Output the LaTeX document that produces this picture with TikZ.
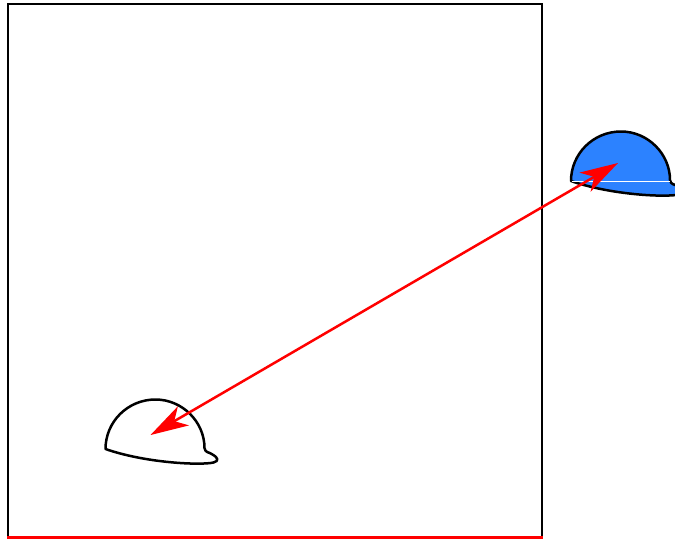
\documentclass[tikz,border=0pt]{standalone}
\usetikzlibrary{arrows.meta}
\definecolor{hatblue}{HTML}{2C82FF}
\tikzset{
  px/.style={x=1pt,y=-1pt},
  hatline/.style={draw=black,line width=2.5pt,line join=round},
  frameline/.style={draw=black,line width=2.5pt},
  redline/.style={draw=red,line width=3pt},
  redarrow/.style={draw=red,line width=2.5pt,
    {Stealth[length=38pt,width=22pt,inset=10.5pt,fill=red]}-{Stealth[length=38pt,width=22pt,inset=10.5pt,fill=red]}},
  hatpath/.pic={
    \path[pic actions,px] (0,0) .. controls (0,-27) and (22,-49.5) .. (50,-49.5)
      .. controls (77,-49.5) and (99,-27) .. (99,-1)
      .. controls (99.5,4) and (104,3) .. (107,5.5)
      .. controls (113,9) and (113.5,12) .. (108,13.5)
      .. controls (95,16.5) and (40,14) .. (0,0) -- cycle;
  }
}
\begin{document}
\begin{tikzpicture}[px]
\useasboundingbox (0,0) rectangle (675,539);
\clip (0,0) rectangle (675,539);
\draw[frameline] (8,537.5) -- (8,4) -- (542,4) -- (542,537.5);
\draw[redline] (7,537.8) -- (543.2,537.8);
\pic[hatline] at (105.5,449) {hatpath};
\pic[hatline,fill=hatblue] at (571,181) {hatpath};
\coordinate (bluehat) at (618,163);
\coordinate (whitehat) at (150.5,435);
\coordinate (lineA) at (571.5,181.3);
\coordinate (lineB) at (670,181.3);
\draw[white,line width=1pt] (lineA) -- (lineB);
\draw[redarrow] (whitehat) -- (bluehat);
\end{tikzpicture}
\end{document}
